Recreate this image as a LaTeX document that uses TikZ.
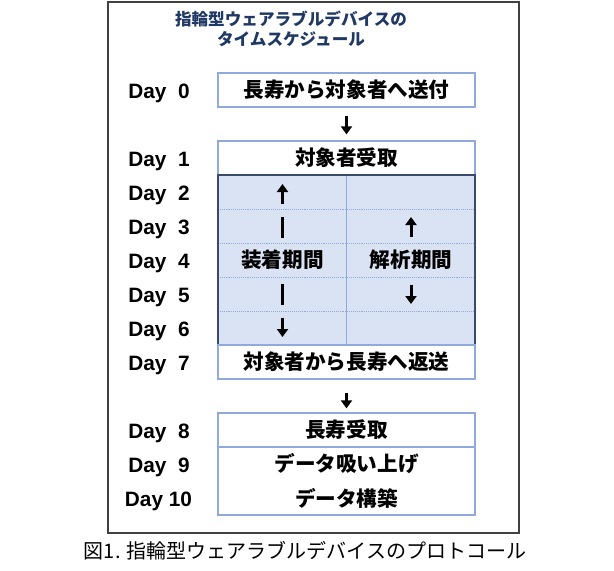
\documentclass[tikz,border=0pt]{standalone}
\usepackage{fontspec}
\setmainfont{Liberation Sans}
\newfontfamily\jp{Noto Sans CJK JP}
\usetikzlibrary{arrows.meta}
\definecolor{boxblue}{HTML}{8FAADC}
\definecolor{gridfill}{HTML}{DAE3F3}
\definecolor{gridedge}{HTML}{3B4A6B}
\definecolor{titleblue}{HTML}{1F3864}
\definecolor{framegray}{HTML}{404040}
\tikzset{
  daybox/.style={draw=boxblue, line width=1.3pt, fill=white, minimum width=257pt,
    minimum height=34pt, inner sep=0pt, font=\jp\bfseries\fontsize{20.6}{24}\selectfont},
  boxtext/.style={inner sep=0pt, font=\jp\bfseries\fontsize{20.6}{24}\selectfont},
  daylbl/.style={inner sep=0pt, anchor=base, font=\bfseries\fontsize{20.8}{24}\selectfont},
  cellpt/.style={inner sep=0pt, minimum size=0pt},
  flowarrow/.style={line width=3pt, -{Triangle[length=8pt,width=11pt]}},
  cellarrow/.style={line width=3pt, -{Triangle[length=8pt,width=11pt]}},
  cellbar/.style={line width=3.2pt},
  rowline/.style={boxblue, line width=0.9pt, densely dotted},
  outerframe/.style={draw=framegray, line width=2pt}
}
\begin{document}
\begin{tikzpicture}[x=1pt,y=-1pt]
\useasboundingbox (0,0) rectangle (614,571);
\draw[outerframe] (108,1.5) rectangle (519,533);

% title
\node[font=\jp\bfseries\fontsize{16.6}{20}\selectfont, text=titleblue, align=center, inner sep=0pt]
  (title) at (291,28.5) {指輪型ウェアラブルデバイスの\\タイムスケジュール};

% day labels
\node[daylbl] (d0) at (159,98) {Day\ \ 0};
\node[daylbl] (d1) at (159,166) {Day\ \ 1};
\node[daylbl] (d2) at (159,200) {Day\ \ 2};
\node[daylbl] (d3) at (159,234) {Day\ \ 3};
\node[daylbl] (d4) at (159,268) {Day\ \ 4};
\node[daylbl] (d5) at (159,302) {Day\ \ 5};
\node[daylbl] (d6) at (159,336) {Day\ \ 6};
\node[daylbl] (d7) at (159,370) {Day\ \ 7};
\node[daylbl] (d8) at (159,438) {Day\ \ 8};
\node[daylbl] (d9) at (159,472) {Day\ \ 9};
\node[daylbl] (d10) at (158.5,506) {Day 10};

% boxes
\node[daybox] (b0) at (346.5,90) {長寿から対象者へ送付};
\node[daybox] (b1) at (346.5,158) {対象者受取};

% grid
\node[draw=none, fill=gridfill, minimum width=257pt, minimum height=170pt, inner sep=0pt]
  (grid) at (346.5,260) {};
\foreach \yy in {209,243,277,311} \draw[rowline] (218,\yy) -- (475,\yy);
\draw[boxblue, line width=0.9pt] (grid.north) -- (grid.south);
\draw[gridedge, line width=1.6pt] (grid.north west) rectangle (grid.south east);

\node[boxtext] (wear) at (282.5,260) {装着期間};
\node[boxtext] (ana) at (411,260) {解析期間};
\node[cellpt] (w2) at (282.5,194) {};
\node[cellpt] (w3) at (282.5,227) {};
\node[cellpt] (w5) at (282.5,294) {};
\node[cellpt] (w6) at (282.5,327) {};
\node[cellpt] (a3) at (411,227) {};
\node[cellpt] (a5) at (411,294) {};
\draw[cellarrow] ([yshift=-9.5pt]w2.center) -- ([yshift=10pt]w2.center);
\draw[cellbar] ([yshift=-10.5pt]w3.center) -- ([yshift=10.5pt]w3.center);
\draw[cellbar] ([yshift=-10.5pt]w5.center) -- ([yshift=10.5pt]w5.center);
\draw[cellarrow] ([yshift=9.5pt]w6.center) -- ([yshift=-10pt]w6.center);
\draw[cellarrow] ([yshift=-9.5pt]a3.center) -- ([yshift=10pt]a3.center);
\draw[cellarrow] ([yshift=9.5pt]a5.center) -- ([yshift=-10pt]a5.center);

\node[daybox] (b7) at (346.5,362) {対象者から長寿へ返送};
\node[daybox] (b8) at (346.5,430) {長寿受取};
\node[daybox, minimum height=68pt] (b9) at (346.5,481) {};
\node[boxtext] (t9) at (346.5,464) {データ吸い上げ};
\node[boxtext] (t10) at (346.5,498) {データ構築};

\draw[flowarrow, shorten <=8pt, shorten >=6pt] (b0) -- (b1);
\draw[flowarrow, shorten <=13pt, shorten >=4pt] (b7) -- (b8);

% caption
\node[font=\jp\fontsize{20}{24}\selectfont, inner sep=0pt] (cap) at (305,551)
  {図1. 指輪型ウェアラブルデバイスのプロトコール};
\end{tikzpicture}
\end{document}
